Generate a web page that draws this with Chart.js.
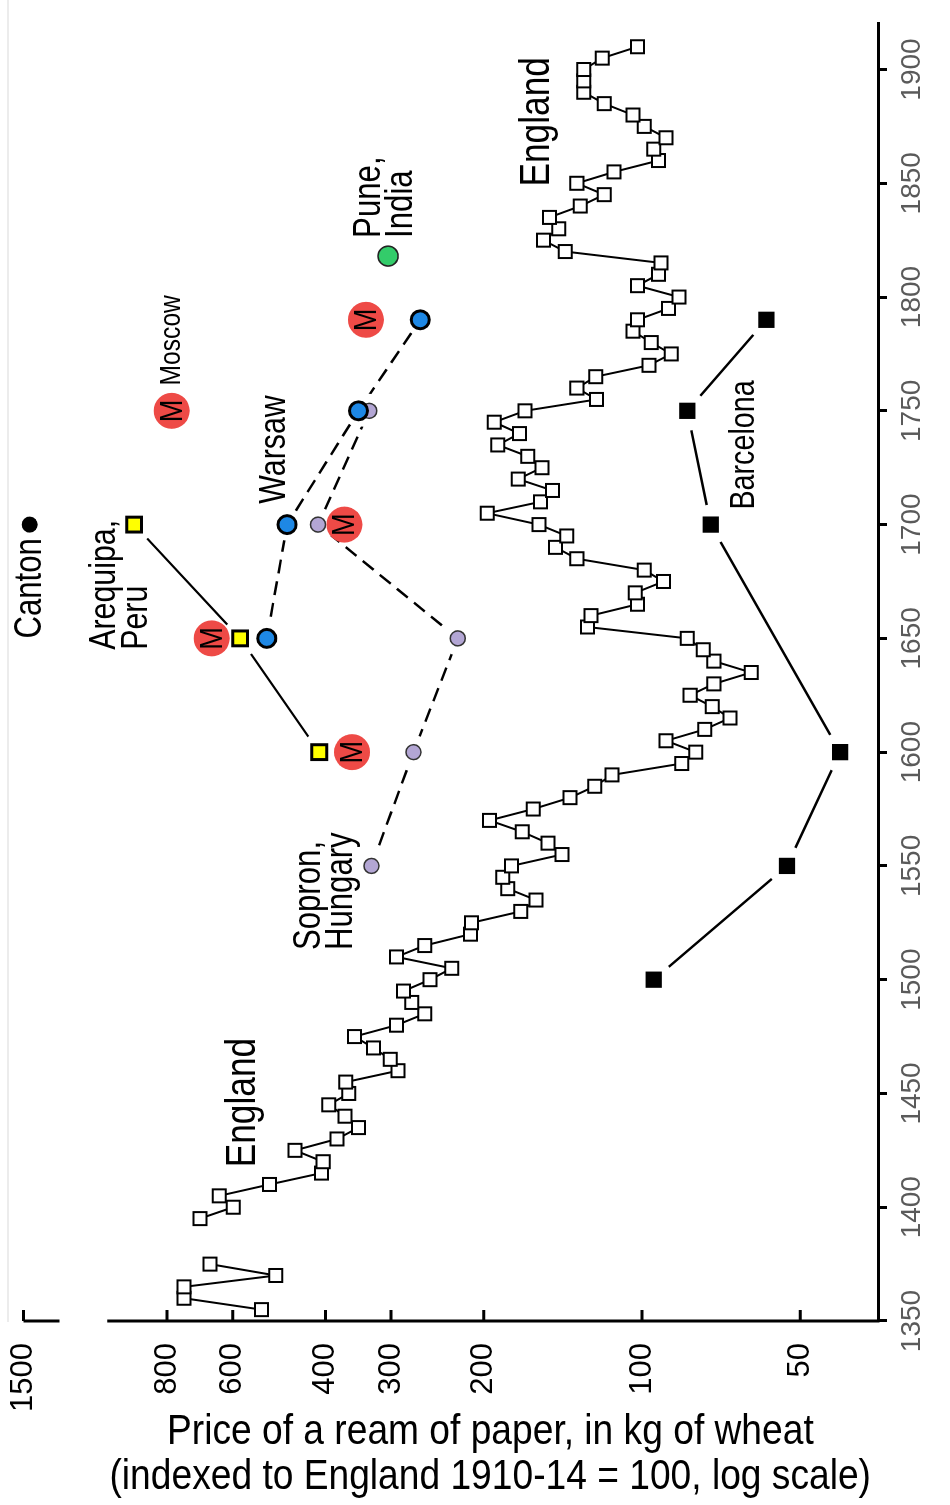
<!DOCTYPE html>
<html>
<head>
<meta charset="utf-8">
<script src="https://cdn.jsdelivr.net/npm/chart.js@4.4.0/dist/chart.umd.min.js"></script>
<style>
  html, body { margin: 0; padding: 0; background: #fff; }
  body { width: 950px; height: 1505px; position: relative; overflow: hidden;
         font-family: "Liberation Sans", Arial, sans-serif; }
  #wrap { position: absolute; left: 0; top: 0; width: 1410px; height: 950px;
          transform-origin: 0 0; transform: translateY(1410px) rotate(-90deg); }
  #edge { position: absolute; left: 7px; top: 0; width: 2px; height: 1322px; background: #ececec; }
  #title { position: absolute; left: 0; top: 1407px; width: 980px; text-align: center; color: #000; }
  #title span { display: inline-block; white-space: nowrap; font-size: 42px; line-height: 45px;
                transform: scaleX(0.885); }
</style>
</head>
<body>
<div id="edge"></div>
<div id="wrap"><canvas id="chart" width="1410" height="950"></canvas></div>
<div id="title"><span>Price of a ream of paper, in kg of wheat</span><br><span>(indexed to England 1910-14 = 100, log scale)</span></div>
<script>
const FONT = '"Liberation Sans", Arial, sans-serif';

// axis ticks
const yearTicks = [1350, 1400, 1450, 1500, 1550, 1600, 1650, 1700, 1750, 1800, 1850, 1900];
const priceTicks = [50, 100, 200, 300, 400, 600, 800, 1500];

// England, 5-year points (null = no data)
const englandYears = [1355, 1360, 1365, 1370, 1375, 1385, 1395, 1400, 1405, 1410, 1415, 1420, 1425, 1430,
  1435, 1440, 1445, 1450, 1455, 1460, 1465, 1470, 1475, 1480, 1485, 1490, 1495, 1500, 1505, 1510,
  1515, 1520, 1525, 1530, 1535, 1540, 1545, 1550, 1555, 1560, 1565, 1570, 1575, 1580, 1585, 1590,
  1595, 1600, 1605, 1610, 1615, 1620, 1625, 1630, 1635, 1640, 1645, 1650, 1655, 1660, 1665, 1670,
  1675, 1680, 1685, 1690, 1695, 1700, 1705, 1710, 1715, 1720, 1725, 1730, 1735, 1740, 1745, 1750,
  1755, 1760, 1765, 1770, 1775, 1780, 1785, 1790, 1795, 1800, 1805, 1810, 1815, 1820, 1825, 1830,
  1835, 1840, 1845, 1850, 1855, 1860, 1865, 1870, 1875, 1880, 1885, 1890, 1895, 1900, 1905, 1910];
const englandPrices = [529, 743, 743, 497, 663, null, 693, 599, 637, 511, 407, 404, 457, 380,
  346, 367, 394, 361, 366, 291, 301, 324, 352, 293, 259, 274, 284, 253, 230, 293,
  259, 212, 211, 170, 159, 180, 184, 177, 142, 151, 169, 195, 161, 137, 123, 114,
  84, 79, 90, 76, 68, 73.5, 81, 73, 62, 73, 76.5, 82, 127, 125, 102, 103,
  91, 99, 133, 146, 139, 157, 197, 156, 148, 172, 155, 165, 188, 171, 191, 167,
  122, 133, 122.5, 97, 88, 96, 104, 102, 89, 85, 102, 93, 92, 140, 154, 144,
  150, 131, 118, 133, 113, 93, 95, 90, 99, 104, 118, 129, 129, 129, 119, 102];

const barcelonaYears = [1500, 1550, 1600, 1700, 1750, 1790];
const barcelonaPrices = [95, 53, 42, 74, 82, 58];

const arequipaYears = [1600, 1650, 1700];
const arequipaPrices = [411, 581, 924];

const warsawYears = [1650, 1700, 1750, 1790];
const warsawPrices = [517, 473, 346, 264];

const sopronYears = [1550, 1600, 1650, 1700, 1750];
const sopronPrices = [327, 272, 224, 413, 330];

const moscowYears = [1600, 1650, 1700, 1750, 1790];
const moscowPrices = [356, 658, 368, 784, 335];

const cantonYears = [1700];
const cantonPrices = [1460];

const puneYears = [1818];
const punePrices = [304];

// text labels, anchored in data space (year, price)
const notes = [
  { lines: ['England'], year: 1446, price: 574, size: 43, align: 'center' },
  { lines: ['England'], year: 1877, price: 158, size: 43, align: 'center' },
  { lines: ['Barcelona'], year: 1735, price: 64, size: 35, align: 'center' },
  { lines: ['Warsaw'], year: 1733, price: 499, size: 37, align: 'center' },
  { lines: ['Moscow'], year: 1781, price: 783, size: 30, align: 'center' },
  { lines: ['Canton'], year: 1672, price: 1452, size: 38, align: 'center' },
  { lines: ['Sopron,', 'Hungary'], year: 1513, price: 399, size: 38, align: 'left' },
  { lines: ['Arequipa,', 'Peru'], year: 1645, price: 979, size: 37, align: 'left' },
  { lines: ['Pune,', 'India'], year: 1826, price: 307, size: 38, align: 'left' }
];

const pts = (xs, ys) => xs.map((x, i) => ({ x, y: ys[i] }));

function lineSet(xs, ys, dash, width) {
  return { data: pts(xs, ys), showLine: true, borderColor: '#000', borderWidth: width,
    borderDash: dash, pointRadius: 0, order: 30 };
}
function haloSet(xs, ys, r) {
  return { data: pts(xs, ys), showLine: false, pointStyle: 'circle', pointRadius: r,
    pointBackgroundColor: '#fff', pointBorderWidth: 0, order: 20 };
}
function markSet(xs, ys, style, r, fill, edge, edgeW, order) {
  return { data: pts(xs, ys), showLine: false, pointStyle: style, pointRadius: r,
    pointBackgroundColor: fill, pointBorderColor: edge, pointBorderWidth: edgeW, order };
}

// narrow text, like the condensed face of the original
function narrowText(ctx, t, x, y, sx) {
  ctx.save();
  ctx.translate(x, y);
  ctx.scale(sx, 1);
  ctx.fillText(t, 0, 0);
  ctx.restore();
}

const decor = {
  id: 'decor',
  afterDatasetsDraw(chart) {
    const { ctx, scales: { x, y } } = chart;
    ctx.save();
    ctx.fillStyle = '#000';
    ctx.textBaseline = 'middle';
    ctx.textAlign = 'center';
    ctx.font = `32px ${FONT}`;
    moscowYears.forEach((yr, i) => {
      narrowText(ctx, 'M', x.getPixelForValue(yr), y.getPixelForValue(moscowPrices[i]) + 1, 0.85);
    });
    notes.forEach(n => {
      ctx.font = `${n.size}px ${FONT}`;
      ctx.textAlign = n.align;
      const px = x.getPixelForValue(n.year);
      const py = y.getPixelForValue(n.price);
      const lh = 32;
      n.lines.forEach((t, i) => {
        narrowText(ctx, t, px, py + (i - (n.lines.length - 1) / 2) * lh, 0.82);
      });
    });
    ctx.restore();
  },
  afterDraw(chart) {
    const { ctx, chartArea: a, scales: { y } } = chart;
    ctx.save();
    ctx.strokeStyle = '#000';
    ctx.lineWidth = 3;
    ctx.beginPath();
    ctx.moveTo(a.left, y.getPixelForValue(1040));
    ctx.lineTo(a.left, a.bottom + 1.5);
    priceTicks.forEach(p => {
      const v = y.getPixelForValue(p);
      ctx.moveTo(a.left, v);
      ctx.lineTo(a.left + 11, v);
    });
    const b = y.getPixelForValue(1500);
    ctx.moveTo(a.left, b);
    ctx.lineTo(a.left, b + 36);
    ctx.stroke();
    ctx.restore();
  }
};

Chart.defaults.font.family = FONT;

const chart = new Chart(document.getElementById('chart'), {
  type: 'scatter',
  data: {
    datasets: [
      { data: pts(englandYears, englandPrices), showLine: true, spanGaps: false, borderColor: '#000',
        borderWidth: 2, pointStyle: 'rect', pointRadius: 9.2, pointBackgroundColor: '#fff',
        pointBorderColor: '#000', pointBorderWidth: 2, order: 1 },
      lineSet(barcelonaYears, barcelonaPrices, [], 2.5),
      lineSet(arequipaYears, arequipaPrices, [], 2.2),
      lineSet(warsawYears, warsawPrices, [14, 8], 2.5),
      lineSet(sopronYears, sopronPrices, [14, 8], 2.5),
      haloSet(barcelonaYears, barcelonaPrices, 20),
      haloSet(arequipaYears, arequipaPrices, 19),
      haloSet(warsawYears, warsawPrices, 16),
      haloSet(sopronYears, sopronPrices, 17),
      markSet(barcelonaYears, barcelonaPrices, 'rect', 11.5, '#000', '#000', 0, 2),
      markSet(arequipaYears, arequipaPrices, 'rect', 10.5, '#ffff00', '#000', 3, 2),
      markSet(warsawYears, warsawPrices, 'circle', 9, '#1e88e5', '#000', 3, 2),
      markSet(cantonYears, cantonPrices, 'circle', 8, '#000', '#000', 0, 2),
      markSet(puneYears, punePrices, 'circle', 10, '#33cc6a', '#222', 1.5, 2),
      markSet(moscowYears, moscowPrices, 'circle', 18, '#ee4a46', '#ee4a46', 0, 3),
      markSet(sopronYears, sopronPrices, 'circle', 7.5, '#b3a6d4', '#333', 1.5, 4)
    ]
  },
  options: {
    responsive: false,
    animation: false,
    events: [],
    layout: { padding: { top: 0, left: 0, right: 24, bottom: 0 } },
    plugins: { legend: { display: false }, tooltip: { enabled: false } },
    scales: {
      x: {
        type: 'linear',
        position: 'bottom',
        min: 1350,
        max: 1920,
        afterBuildTicks: s => { s.ticks = yearTicks.map(v => ({ value: v })); },
        afterFit: s => { s.height = 72; s.paddingLeft = 0; s.paddingRight = 0; },
        ticks: { autoSkip: false, maxRotation: 0, minRotation: 0, padding: 8, color: '#5a5a5a',
          font: { size: 28 }, callback: v => String(v) },
        grid: { drawOnChartArea: false, color: '#000', lineWidth: 3, tickLength: 9 },
        border: { display: true, color: '#000', width: 3 }
      },
      y: {
        type: 'logarithmic',
        position: 'left',
        min: 35.56,
        max: 1662.6,
        afterBuildTicks: s => { s.ticks = priceTicks.map(v => ({ value: v })); },
        afterFit: s => { s.width = 89; s.paddingTop = 0; s.paddingBottom = 0; },
        ticks: { autoSkip: false, padding: 14, color: '#000', font: { size: 31 },
          callback: v => String(v) },
        grid: { display: false },
        border: { display: false }
      }
    }
  },
  plugins: [decor]
});

// fit the log range to the plot box so that 100 sits 642 px across and a doubling spans 158 px
const priceAt = v => 100 * Math.pow(2, (642 - v) / 158.3);
const area = chart.chartArea;
chart.options.scales.y.min = priceAt(area.bottom);
chart.options.scales.y.max = priceAt(area.top);
chart.update();
</script>
</body>
</html>
